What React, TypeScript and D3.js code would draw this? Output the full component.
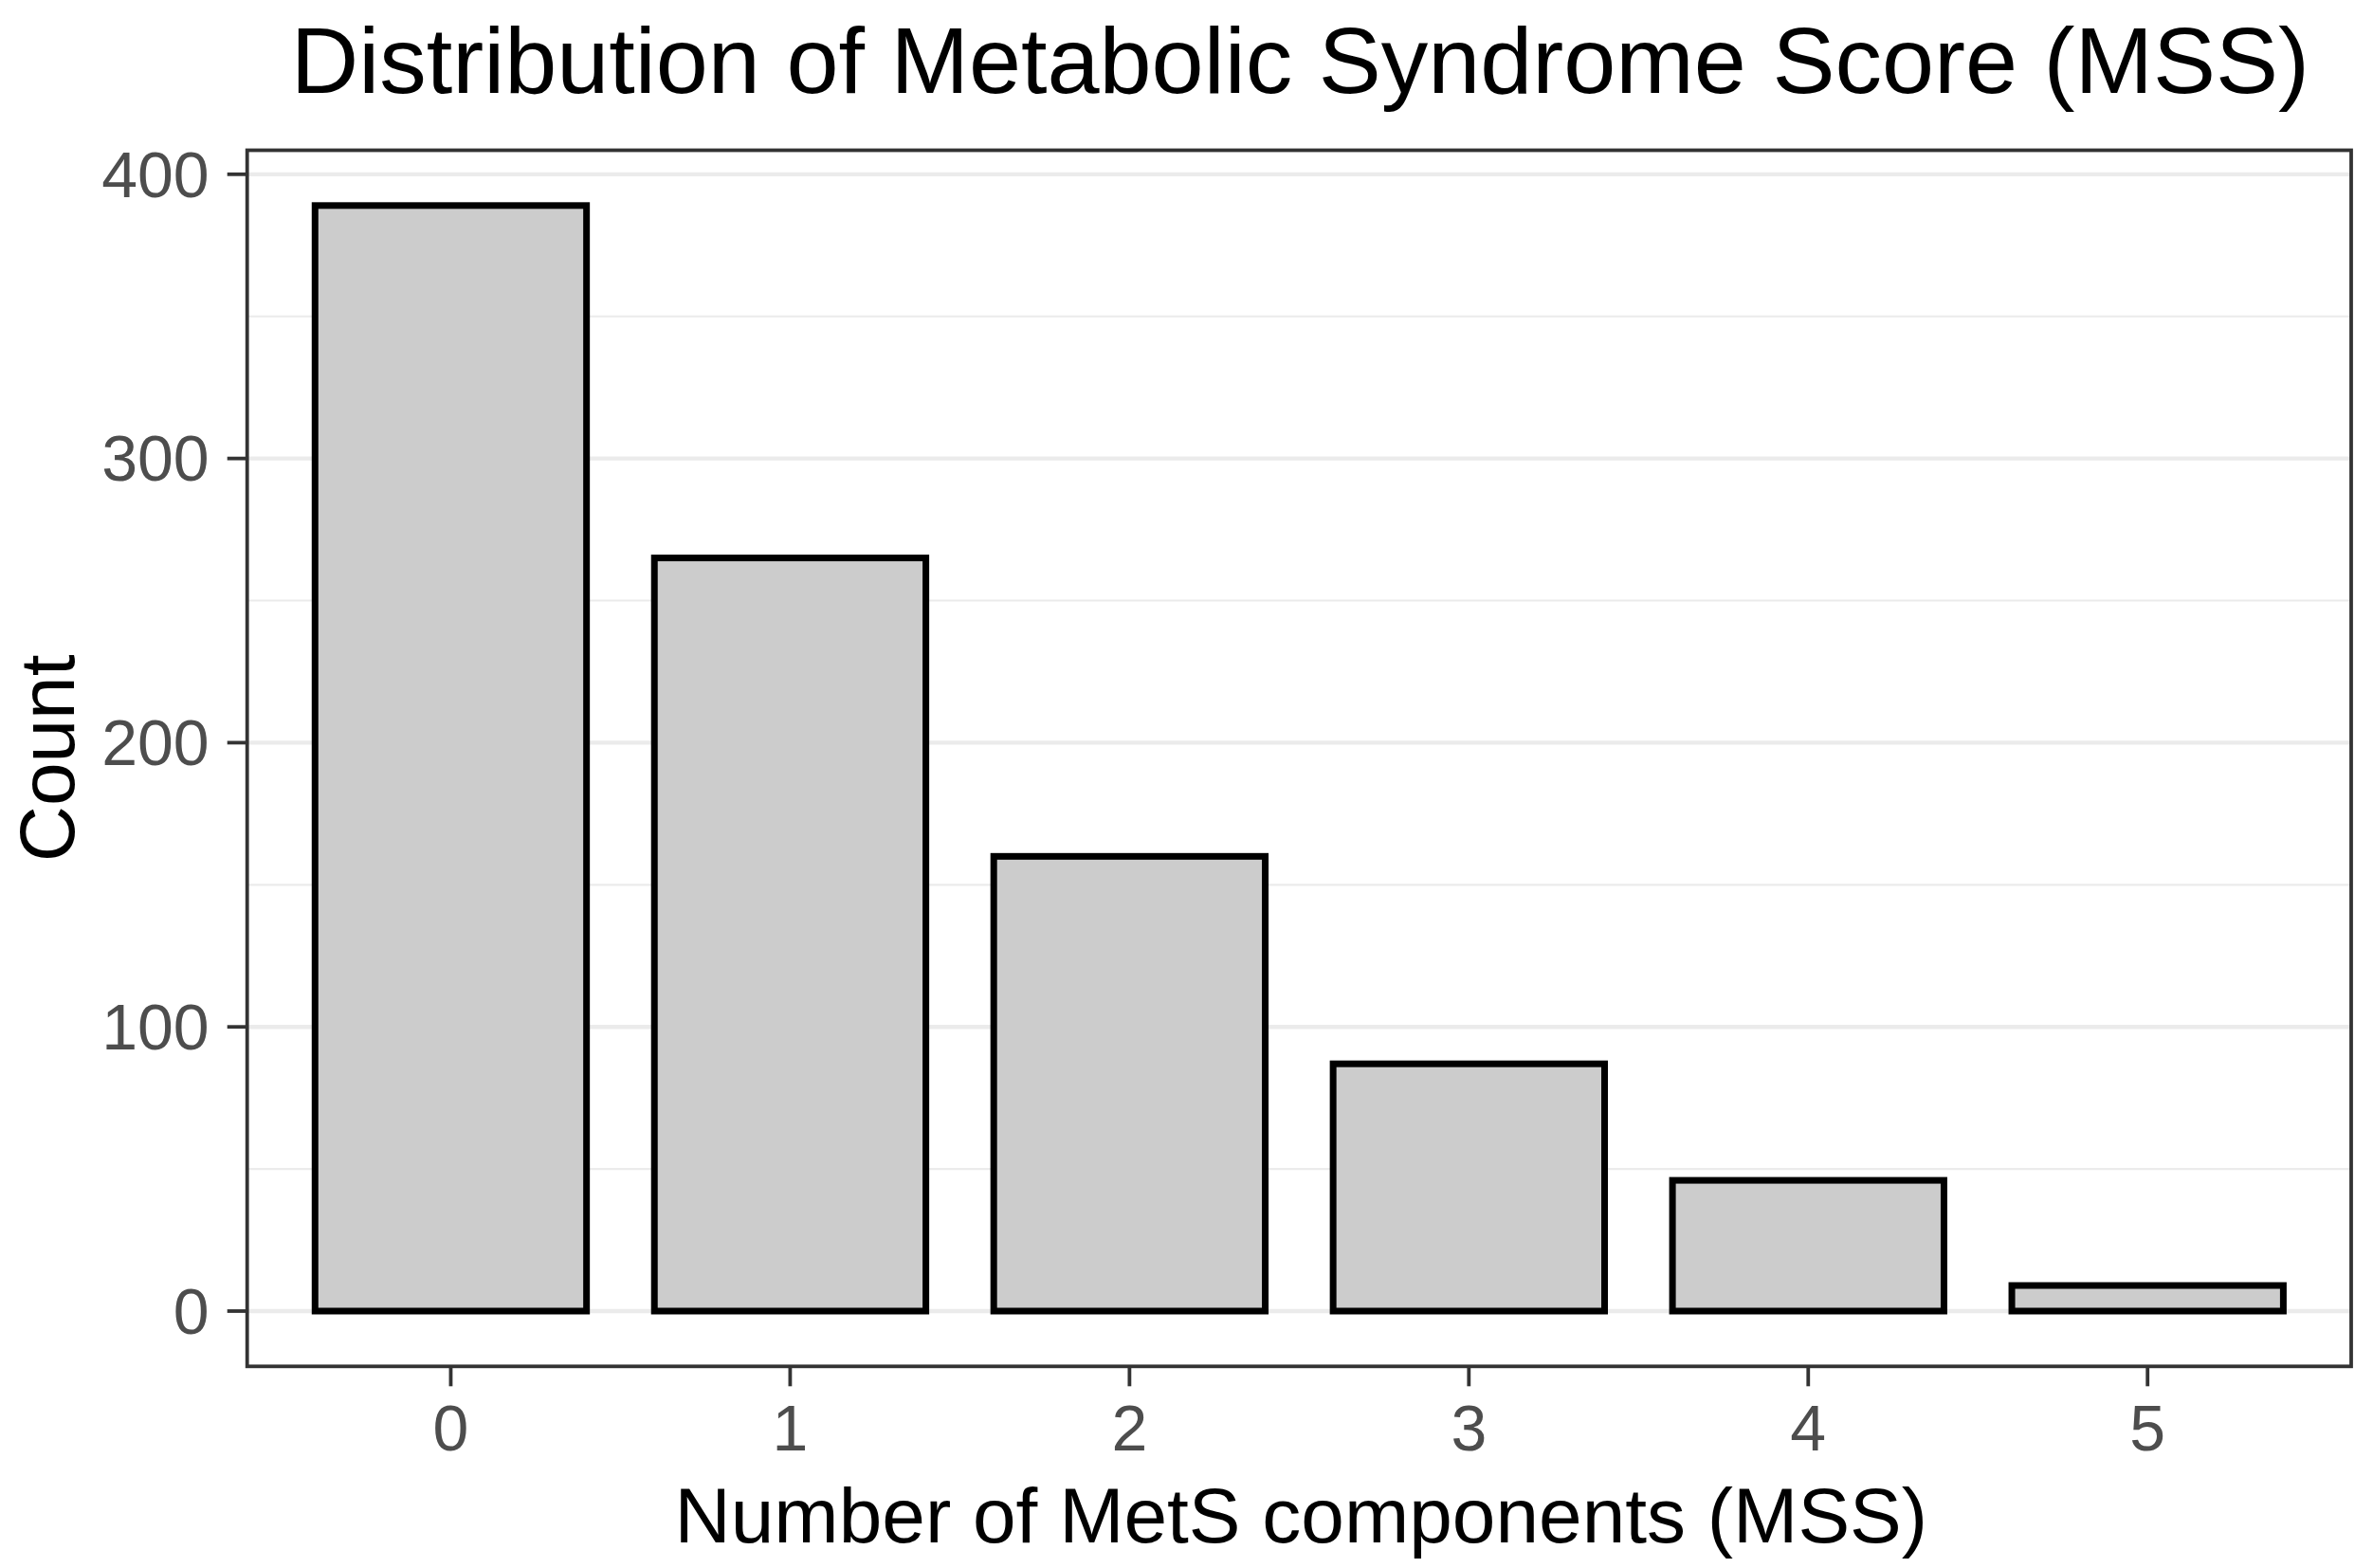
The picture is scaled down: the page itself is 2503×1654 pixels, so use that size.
import React from "react";
import * as d3 from "d3";

const categories = ["0", "1", "2", "3", "4", "5"];
const counts = [389, 265, 160, 87, 46, 9];
const yTicks = [0, 100, 200, 300, 400];
const yMinorTicks = [50, 150, 250, 350];
const titleText = "Distribution of Metabolic Syndrome Score (MSS)";
const xTitleText = "Number of MetS components (MSS)";
const yTitleText = "Count";

export default function App() {
  const W = 2503;
  const H = 1654;
  const panel = { left: 260.7, right: 2480, top: 158.5, bottom: 1441.3 };
  const maxV = d3.max(counts) as number;
  const pad = maxV * 0.05;
  const y = d3
    .scaleLinear()
    .domain([-pad, maxV + pad])
    .range([panel.bottom, panel.top]);
  const x = d3
    .scaleBand<string>()
    .domain(categories)
    .range([panel.left, panel.right])
    .paddingInner(0.2)
    .paddingOuter(0.2);

  const font = "'Liberation Sans', Arial, Helvetica, sans-serif";
  const cx = (panel.left + panel.right) / 2;
  const cy = (panel.top + panel.bottom) / 2;
  const tickLen = 21;

  return (
    <svg
      width={W}
      height={H}
      viewBox={`0 0 ${W} ${H}`}
      style={{ position: "absolute", left: 0, top: 0, background: "#fff" }}
      fontFamily={font}
    >
      <rect x={0} y={0} width={W} height={H} fill="#fff" />
      {/* title */}
      <text x={cx + 1} y={98} textAnchor="middle" fontSize={99} fill="#000">
        {titleText}
      </text>
      {/* grid */}
      <g>
        {yMinorTicks.map((t) => (
          <line
            key={"m" + t}
            x1={panel.left}
            x2={panel.right}
            y1={y(t)}
            y2={y(t)}
            stroke="#EBEBEB"
            strokeWidth={2.2}
          />
        ))}
        {yTicks.map((t) => (
          <line
            key={"g" + t}
            x1={panel.left}
            x2={panel.right}
            y1={y(t)}
            y2={y(t)}
            stroke="#EBEBEB"
            strokeWidth={4.4}
          />
        ))}
      </g>
      {/* bars */}
      <g>
        {categories.map((c, i) => (
          <rect
            key={c}
            x={x(c)}
            y={y(counts[i])}
            width={x.bandwidth()}
            height={y(0) - y(counts[i])}
            fill="#CCCCCC"
            stroke="#000"
            strokeWidth={7}
          />
        ))}
      </g>
      {/* panel border */}
      <rect
        x={panel.left}
        y={panel.top}
        width={panel.right - panel.left}
        height={panel.bottom - panel.top}
        fill="none"
        stroke="#333333"
        strokeWidth={3.8}
      />
      {/* y axis */}
      <g>
        {yTicks.map((t) => (
          <g key={"y" + t}>
            <line
              x1={panel.left - tickLen}
              x2={panel.left}
              y1={y(t)}
              y2={y(t)}
              stroke="#333333"
              strokeWidth={3.8}
            />
            <text
              x={panel.left - tickLen - 19}
              y={y(t)}
              dy="0.35em"
              textAnchor="end"
              fontSize={68}
              fill="#4D4D4D"
            >
              {t}
            </text>
          </g>
        ))}
      </g>
      {/* x axis */}
      <g>
        {categories.map((c) => {
          const px = (x(c) as number) + x.bandwidth() / 2;
          return (
            <g key={"x" + c}>
              <line
                x1={px}
                x2={px}
                y1={panel.bottom}
                y2={panel.bottom + tickLen}
                stroke="#333333"
                strokeWidth={3.8}
              />
              <text
                x={px}
                y={1530}
                textAnchor="middle"
                fontSize={68}
                fill="#4D4D4D"
              >
                {c}
              </text>
            </g>
          );
        })}
      </g>
      {/* axis titles */}
      <text x={cx + 2} y={1627} textAnchor="middle" fontSize={82} fill="#000">
        {xTitleText}
      </text>
      <text
        transform={`translate(78, ${cy}) rotate(-90)`}
        textAnchor="middle"
        fontSize={82}
        fill="#000"
      >
        {yTitleText}
      </text>
    </svg>
  );
}
